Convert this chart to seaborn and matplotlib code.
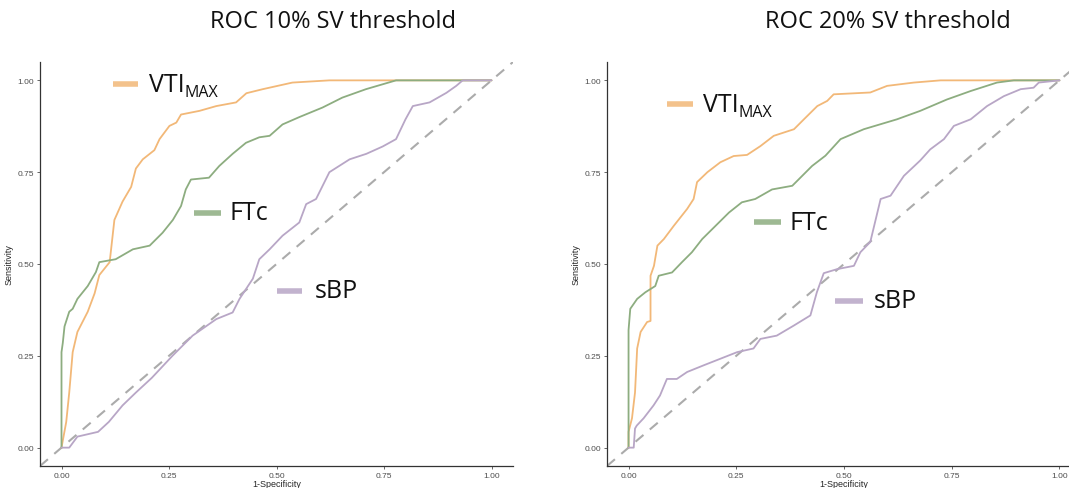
import numpy as np
import pandas as pd
import matplotlib
matplotlib.use("Agg")
import matplotlib.pyplot as plt
import seaborn as sns

# ---------------------------------------------------
#   ROC curve points (1-Specificity, Sensitivity)
# ---------------------------------------------------
# 10% SV threshold
vti10_x = [0, 0.011, 0.018, 0.026, 0.037, 0.061, 0.077, 0.088, 0.112, 0.123, 0.142, 0.162,
           0.173, 0.189, 0.216, 0.228, 0.251, 0.267, 0.278, 0.321, 0.36, 0.406, 0.43, 0.468,
           0.537, 0.623, 1.0]
vti10_y = [0, 0.07, 0.15, 0.26, 0.315, 0.37, 0.42, 0.47, 0.505, 0.62, 0.67, 0.71,
           0.76, 0.785, 0.81, 0.84, 0.876, 0.885, 0.907, 0.917, 0.93, 0.94, 0.965, 0.976,
           0.994, 1.0, 1.0]
ftc10_x = [0, 0, 0.003, 0.007, 0.018, 0.026, 0.037, 0.061, 0.08, 0.088, 0.126, 0.166, 0.205,
           0.235, 0.259, 0.278, 0.289, 0.301, 0.343, 0.367, 0.398, 0.429, 0.46, 0.484, 0.514,
           0.553, 0.607, 0.653, 0.708, 0.778, 1.0]
ftc10_y = [0, 0.26, 0.285, 0.33, 0.37, 0.378, 0.405, 0.44, 0.478, 0.505, 0.513, 0.54, 0.55,
           0.585, 0.62, 0.658, 0.703, 0.73, 0.735, 0.767, 0.80, 0.83, 0.845, 0.849, 0.88,
           0.90, 0.926, 0.953, 0.976, 1.0, 1.0]
sbp10_x = [0, 0.018, 0.037, 0.085, 0.11, 0.142, 0.173, 0.21, 0.258, 0.305, 0.36, 0.398, 0.414,
           0.445, 0.46, 0.484, 0.514, 0.553, 0.569, 0.592, 0.623, 0.67, 0.709, 0.747, 0.778,
           0.80, 0.817, 0.856, 0.895, 0.918, 0.933, 1.0]
sbp10_y = [0, 0.0, 0.03, 0.043, 0.07, 0.115, 0.15, 0.19, 0.25, 0.305, 0.35, 0.368, 0.405,
           0.46, 0.513, 0.54, 0.577, 0.613, 0.663, 0.677, 0.75, 0.785, 0.80, 0.82, 0.84,
           0.894, 0.93, 0.94, 0.966, 0.985, 1.0, 1.0]

# 20% SV threshold
vti20_x = [0, 0, 0.008, 0.015, 0.02, 0.028, 0.043, 0.051, 0.051, 0.059, 0.067, 0.082, 0.105,
           0.136, 0.151, 0.159, 0.183, 0.213, 0.244, 0.275, 0.306, 0.337, 0.384, 0.407, 0.438,
           0.461, 0.476, 0.561, 0.60, 0.662, 0.724, 1.0]
vti20_y = [0, 0.043, 0.08, 0.15, 0.27, 0.315, 0.342, 0.345, 0.468, 0.495, 0.55, 0.568, 0.604,
           0.65, 0.677, 0.723, 0.75, 0.777, 0.794, 0.797, 0.821, 0.849, 0.867, 0.894, 0.93,
           0.944, 0.962, 0.967, 0.985, 0.994, 1.0, 1.0]
ftc20_x = [0, 0, 0.004, 0.02, 0.039, 0.062, 0.07, 0.101, 0.124, 0.147, 0.171, 0.202, 0.233,
           0.263, 0.294, 0.333, 0.38, 0.426, 0.457, 0.492, 0.546, 0.623, 0.677, 0.739, 0.794,
           0.855, 0.894, 1.0]
ftc20_y = [0, 0.32, 0.378, 0.405, 0.423, 0.44, 0.468, 0.477, 0.505, 0.532, 0.568, 0.604, 0.64,
           0.668, 0.677, 0.703, 0.713, 0.767, 0.795, 0.84, 0.867, 0.894, 0.917, 0.948, 0.971,
           0.994, 1.0, 1.0]
sbp20_x = [0, 0.012, 0.015, 0.019, 0.035, 0.058, 0.073, 0.089, 0.112, 0.136, 0.174, 0.213,
           0.252, 0.29, 0.306, 0.344, 0.383, 0.422, 0.437, 0.453, 0.484, 0.523, 0.538, 0.561,
           0.585, 0.608, 0.639, 0.677, 0.70, 0.732, 0.755, 0.794, 0.832, 0.871, 0.91, 0.94,
           0.952, 1.0]
sbp20_y = [0, 0.0, 0.052, 0.06, 0.08, 0.115, 0.142, 0.187, 0.187, 0.206, 0.224, 0.242, 0.26,
           0.27, 0.296, 0.305, 0.332, 0.36, 0.423, 0.475, 0.486, 0.495, 0.532, 0.56, 0.677,
           0.686, 0.74, 0.782, 0.812, 0.84, 0.876, 0.894, 0.93, 0.957, 0.976, 0.98, 0.994, 1.0]

titles = ["ROC 10% SV threshold", "ROC 20% SV threshold"]
markers = ["VTI", "FTc", "sBP"]
palette = {"VTI": "#F2B878", "FTc": "#8DAD80", "sBP": "#B8A6C6"}
ticks = [0.0, 0.25, 0.5, 0.75, 1.0]
tick_labels = ["0.00", "0.25", "0.50", "0.75", "1.00"]


def roc_frame(curves):
	rows = []
	for name, (xs, ys) in zip(markers, curves):
		for i, (a, b) in enumerate(zip(xs, ys)):
			rows.append({"marker": name, "order": i, "fpr": a, "tpr": b})
	return pd.DataFrame(rows)


df10 = roc_frame([(vti10_x, vti10_y), (ftc10_x, ftc10_y), (sbp10_x, sbp10_y)])
df20 = roc_frame([(vti20_x, vti20_y), (ftc20_x, ftc20_y), (sbp20_x, sbp20_y)])

# label placement (data coords): segment start, segment end, y, text x
key10 = {"VTI": (0.119, 0.177, 0.99, 0.203), "FTc": (0.309, 0.372, 0.64, 0.39),
         "sBP": (0.50, 0.56, 0.427, 0.59)}
key20 = {"VTI": (0.09, 0.149, 0.935, 0.172), "FTc": (0.29, 0.353, 0.614, 0.373),
         "sBP": (0.48, 0.543, 0.40, 0.568)}

sns.set_theme(style="ticks")
plt.rcParams["font.family"] = ["Liberation Sans", "DejaVu Sans"]

fig = plt.figure(figsize=(10.69, 4.89), dpi=100)
ax1 = fig.add_axes([40 / 1069, 1 - 467 / 489, 473 / 1069, 404 / 489])
ax2 = fig.add_axes([607 / 1069, 1 - 467 / 489, 474 / 1069, 404 / 489])

for ax, df, keys, title, tx in [(ax1, df10, key10, titles[0], 333), (ax2, df20, key20, titles[1], 888)]:
	ax.plot([-0.05, 1.05], [-0.05, 1.05], ls=(0, (5, 4)), color="#ABABAB", lw=1.5, zorder=1)
	sns.lineplot(data=df, x="fpr", y="tpr", hue="marker", palette=palette, sort=False,
	             estimator=None, units="marker", lw=1.3, legend=False, ax=ax, zorder=2)
	ax.set_xlim(-0.05, 1.05)
	ax.set_ylim(-0.05, 1.05)
	ax.set_xticks(ticks)
	ax.set_xticklabels(tick_labels)
	ax.set_yticks(ticks)
	ax.set_yticklabels(tick_labels)
	ax.tick_params(labelsize=6, colors="#4D4D4D", length=2.5, width=0.6, pad=1.5)
	for s in ["top", "right"]:
		ax.spines[s].set_visible(False)
	for s in ["left", "bottom"]:
		ax.spines[s].set_color("#333333")
		ax.spines[s].set_linewidth(0.9)
	ax.set_xlabel("1-Specificity", fontsize=6.5, labelpad=0)
	ax.set_ylabel("Sensitivity", fontsize=6.5, labelpad=3)

	# in-plot labels
	for name in markers:
		x0, x1, yy, xt = keys[name]
		ax.plot([x0, x1], [yy, yy], color=palette[name], lw=4, alpha=0.85, solid_capstyle="butt")
		t = ax.text(xt, yy, name, fontsize=18, family=["Open Sans", "DejaVu Sans"],
		            va="center", ha="left", color="#111111")
		if name == "VTI":
			ax.annotate("MAX", xy=(1, 0.18), xycoords=t, fontsize=11.5,
			            family=["Open Sans", "DejaVu Sans"], va="center", ha="left", color="#111111")

	fig.text(tx / 1069, 1 - 22 / 489, title, fontsize=17, family=["Open Sans", "DejaVu Sans"],
	         ha="center", va="center", color="#111111")

fig.savefig("out.png", dpi=100)
